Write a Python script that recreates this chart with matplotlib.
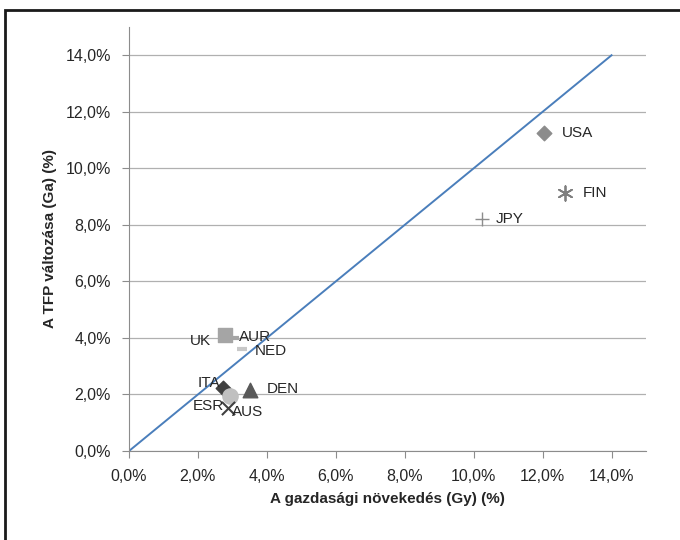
import matplotlib.pyplot as plt
from matplotlib.patches import Rectangle
from matplotlib.ticker import FuncFormatter

plt.rcParams['font.family'] = ['Liberation Sans', 'DejaVu Sans']

# economic growth (Gy) and TFP change (Ga), in percent
countries = ['USA', 'FIN', 'JPY', 'UK', 'AUR', 'NED', 'ITA', 'DEN', 'ESR', 'AUS']
growth = [12.03, 12.64, 10.23, 2.78, 3.04, 3.28, 2.72, 3.50, 2.93, 2.87]
tfp = [11.25, 9.13, 8.22, 4.09, 3.98, 3.60, 2.22, 2.15, 1.94, 1.52]

# 45-degree reference line
ref_x = [0.0, 14.0]
ref_y = [0.0, 14.0]

ticks = [0, 2, 4, 6, 8, 10, 12, 14]

styles = {
    'USA': dict(marker='D', color='#8c8c8c', s=55),
    'FIN': dict(marker=(6, 2, 0), color='#7f7f7f', s=110, linewidths=1.3),
    'JPY': dict(marker='+', color='#8c8c8c', s=90, linewidths=1.0),
    'UK':  dict(marker='s', color='#a5a5a5', s=115),
    'AUR': dict(marker='_', color='#a5a5a5', s=60, linewidths=3),
    'NED': dict(marker='_', color='#c8c8c8', s=60, linewidths=3),
    'ITA': dict(marker='D', color='#404040', s=55),
    'DEN': dict(marker='^', color='#595959', s=110),
    'ESR': dict(marker='o', color='#c0c0c0', s=120),
    'AUS': dict(marker='x', color='#404040', s=90, linewidths=1.5),
}

# label offsets in points
offsets = {
    'USA': (13, 0, 'left'), 'FIN': (13, 0, 'left'), 'JPY': (10, 0, 'left'),
    'UK': (-10, -4, 'right'), 'AUR': (4, 1, 'left'), 'NED': (9, -1, 'left'),
    'ITA': (-2, 4, 'right'), 'DEN': (12, 1, 'left'), 'ESR': (-4, -7, 'right'),
    'AUS': (3, -3, 'left'),
}

fig = plt.figure(figsize=(6.8, 5.4), dpi=100)
ax = fig.add_axes([129 / 680, 1 - 451 / 540, (646 - 129) / 680, (451 - 27) / 540])

# chart frame
fig.patches.append(Rectangle((5 / 680, -0.1), 1.2, 1 - 10 / 540 + 0.1,
                             transform=fig.transFigure, fill=False,
                             edgecolor='#1a1a1a', linewidth=2))

ax.plot(ref_x, ref_y, color='#4a7ebb', linewidth=1.4, zorder=2)

for name, x, y in zip(countries, growth, tfp):
    ax.scatter([x], [y], zorder=3, **styles[name])
    dx, dy, ha = offsets[name]
    ax.annotate(name, (x, y), xytext=(dx, dy), textcoords='offset points',
                ha=ha, va='center', fontsize=11, color='#262626', zorder=4)

ax.set_xlim(0, 15)
ax.set_ylim(0, 15)
ax.set_xticks(ticks)
ax.set_yticks(ticks)
pct = FuncFormatter(lambda v, _: f'{v:.1f}%'.replace('.', ','))
ax.xaxis.set_major_formatter(pct)
ax.yaxis.set_major_formatter(pct)

ax.grid(axis='y', color='#b0b0b0', linewidth=0.9)
ax.set_axisbelow(True)
for side in ('top', 'right'):
    ax.spines[side].set_visible(False)
for side in ('left', 'bottom'):
    ax.spines[side].set_color('#8c8c8c')
ax.tick_params(colors='#8c8c8c', labelcolor='#262626', labelsize=11.5,
               length=5, direction='out')
ax.tick_params(axis='x', pad=8)
ax.tick_params(axis='y', pad=8)

ax.set_xlabel('A gazdasági növekedés (Gy) (%)', fontsize=11,
              fontweight='bold', color='#262626', labelpad=6)
ax.set_ylabel('A TFP változása (Ga) (%)', fontsize=11,
              fontweight='bold', color='#262626', labelpad=6)

fig.savefig('out.png', dpi=100)
